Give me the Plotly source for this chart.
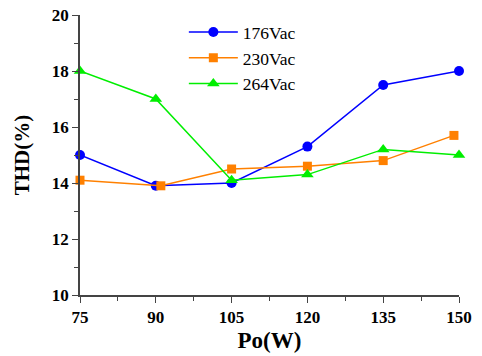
import plotly.graph_objects as go

po = [75, 90, 105, 120, 135, 150]
po_230 = [75, 91, 105, 120, 135, 149]
thd_176 = [15.0, 13.9, 14.0, 15.3, 17.5, 18.0]
thd_230 = [14.1, 13.9, 14.5, 14.6, 14.8, 15.7]
thd_264 = [18.0, 17.0, 14.1, 14.3, 15.2, 15.0]
x_ticks = [75, 90, 105, 120, 135, 150]
y_ticks = [10, 12, 14, 16, 18, 20]

SERIF = "Liberation Serif"

fig = go.Figure()
fig.add_trace(go.Scatter(x=po, y=thd_176, name="176Vac", mode="lines+markers",
                         line=dict(color="#0000ff", width=1.5),
                         marker=dict(symbol="circle", size=10, color="#0000ff"),
                         cliponaxis=False))
fig.add_trace(go.Scatter(x=po_230, y=thd_230, name="230Vac", mode="lines+markers",
                         line=dict(color="#ff8000", width=1.5),
                         marker=dict(symbol="square", size=9, color="#ff8000"),
                         cliponaxis=False))
fig.add_trace(go.Scatter(x=po, y=thd_264, name="264Vac", mode="lines+markers",
                         line=dict(color="#00ee00", width=1.5),
                         marker=dict(symbol="triangle-up", size=11, color="#00ee00"),
                         cliponaxis=False))

tf = dict(family=SERIF, size=17, color="black", weight="bold")
fig.update_xaxes(range=[75, 150], tickvals=x_ticks,
                 minor=dict(ticks="outside", ticklen=4, tickcolor="#444", dtick=7.5, tick0=75),
                 title=dict(text="<b>Po(W)</b>", font=dict(family=SERIF, size=23, color="black"), standoff=6),
                 showgrid=False, zeroline=False, showline=True, linecolor="#444",
                 linewidth=1.5, ticks="outside", ticklen=6, tickwidth=1.2, tickcolor="#444",
                 tickfont=tf, automargin=False)
fig.update_yaxes(range=[10, 20], tickvals=y_ticks,
                 minor=dict(ticks="outside", ticklen=4, tickcolor="#444", dtick=1, tick0=10),
                 title=dict(text="<b>THD(%)</b>", font=dict(family=SERIF, size=21, color="black"), standoff=16),
                 showgrid=False, zeroline=False, showline=True, linecolor="#444",
                 linewidth=1.5, ticks="outside", ticklen=6, tickwidth=1.2, tickcolor="#444",
                 tickfont=tf, automargin=False)
fig.update_layout(
    width=482, height=356,
    margin=dict(l=80, r=23, t=15, b=61, autoexpand=False),
    plot_bgcolor="white", paper_bgcolor="white",
    font=dict(family=SERIF, color="black"),
    legend=dict(x=0.274, y=1.003, xanchor="left", yanchor="top",
                font=dict(family=SERIF, size=17.5, color="black"),
                bgcolor="rgba(0,0,0,0)", itemwidth=49, tracegroupgap=0),
    showlegend=True,
)
fig.write_html("out.html")
